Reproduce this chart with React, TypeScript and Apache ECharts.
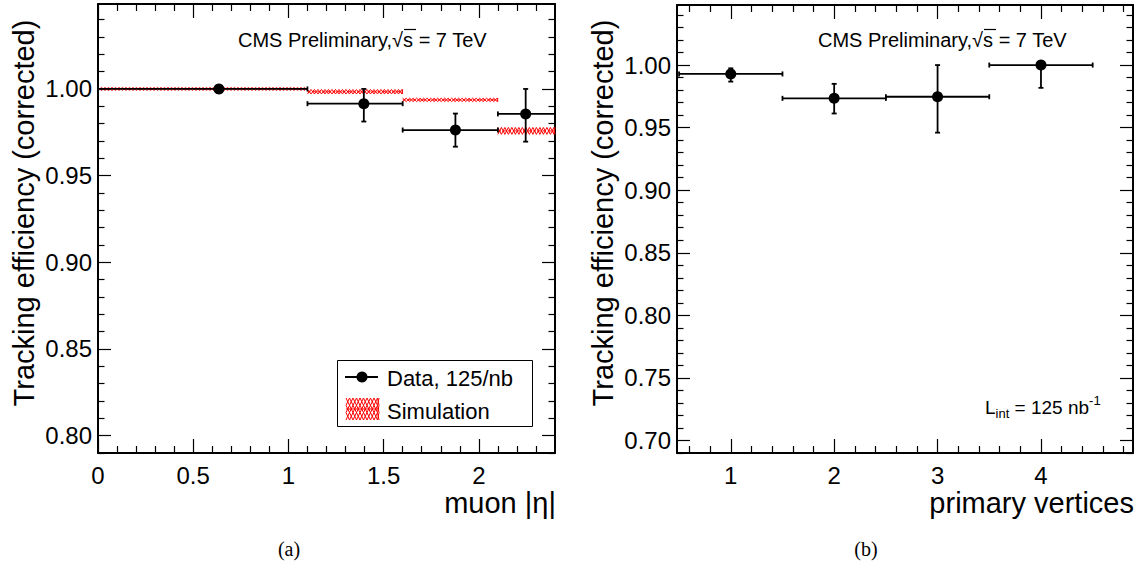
import React, { useEffect, useRef } from 'react';
import * as echarts from 'echarts';

const W = 1144;
const H = 572;

// ---- Panel (a): muon |eta| ----
const etaBinLo = [0, 1.1, 1.6, 2.1];
const etaBinHi = [1.1, 1.6, 2.1, 2.4];
const etaX = [0.635, 1.396, 1.877, 2.246];
const etaEff = [1.0, 0.9915, 0.9763, 0.9856];
const etaErrLo = [0.0022, 0.0103, 0.0096, 0.016];
const etaErrHi = [0.0015, 0.0085, 0.0095, 0.0144];
const simEff = [1.0, 0.9984, 0.9937, 0.9758];
const simErr = [0.0005, 0.0013, 0.001, 0.002];

// ---- Panel (b): primary vertices ----
const pvX = [1, 2, 3, 4];
const pvLo = [0.5, 1.5, 2.5, 3.5];
const pvHi = [1.5, 2.5, 3.5, 4.5];
const pvEff = [0.9929, 0.9734, 0.9747, 1.0];
const pvErrLo = [0.0061, 0.0121, 0.0287, 0.0182];
const pvErrHi = [0.0045, 0.0116, 0.0253, 0.0];

// ---- ticks ----
const etaMajor = [0, 0.5, 1, 1.5, 2];
const etaMinor = [0.1, 0.2, 0.3, 0.4, 0.6, 0.7, 0.8, 0.9, 1.1, 1.2, 1.3, 1.4, 1.6, 1.7, 1.8, 1.9, 2.1, 2.2, 2.3];
const effMajorA = [0.8, 0.85, 0.9, 0.95, 1.0];
const effMajorB = [0.7, 0.75, 0.8, 0.85, 0.9, 0.95, 1.0];
const pvMajor = [1, 2, 3, 4];

function range(a: number, b: number, step: number, skip: number[]) {
  const out: number[] = [];
  const n = Math.round((b - a) / step);
  for (let i = 0; i <= n; i++) {
    const v = +(a + i * step).toFixed(4);
    if (!skip.some((s) => Math.abs(s - v) < 1e-6)) out.push(v);
  }
  return out;
}
const effMinorA = range(0.79, 1.04, 0.01, effMajorA);
const effMinorB = range(0.69, 1.04, 0.01, effMajorB);
const pvMinor = range(0.6, 4.8, 0.2, pvMajor);

const FONT = 'Liberation Sans, Arial, Helvetica, sans-serif';

function axisSet(kind: 'x' | 'y', gi: number, min: number, max: number, major: number[], minor: number[], fmt: (v: number) => string) {
  const p1 = kind === 'x' ? 'bottom' : 'left';
  const p2 = kind === 'x' ? 'top' : 'right';
  const len = kind === 'x' ? [14, 7] : [13, 6.5];
  const base: any = { type: 'value', gridIndex: gi, min, max, splitLine: { show: false }, silent: true };
  const lineOn = { show: true, onZero: false, lineStyle: { color: '#000', width: 2 } };
  const lineOff = { show: false, onZero: false };
  const tick = (vals: number[], l: number) => ({ show: true, inside: true, length: l, customValues: vals, lineStyle: { color: '#000', width: 1.2 } });
  return [
    {
      ...base, position: p1, axisLine: lineOn, axisTick: tick(major, len[0]),
      axisLabel: {
        show: true, customValues: major, formatter: fmt, color: '#000', fontSize: 24, fontFamily: FONT,
        margin: kind === 'x' ? 10 : 6, hideOverlap: false, showMinLabel: true, showMaxLabel: true,
      },
    },
    { ...base, position: p1, axisLine: lineOff, axisTick: tick(minor, len[1]), axisLabel: { show: false } },
    { ...base, position: p2, axisLine: lineOn, axisTick: tick(major, len[0]), axisLabel: { show: false } },
    { ...base, position: p2, axisLine: lineOff, axisTick: tick(minor, len[1]), axisLabel: { show: false } },
  ];
}

function errRender(params: any, api: any) {
  const x = api.value(0), y = api.value(1), xlo = api.value(2), xhi = api.value(3), ylo = api.value(4), yhi = api.value(5);
  const c = api.coord([x, y]);
  const l = api.coord([xlo, y]);
  const r = api.coord([xhi, y]);
  const t = api.coord([x, yhi]);
  const b = api.coord([x, ylo]);
  const st = { stroke: '#000', lineWidth: 1.8 };
  const cap = 2.5;
  const ch: any[] = [
    { type: 'line', shape: { x1: l[0], y1: c[1], x2: r[0], y2: c[1] }, style: st },
    { type: 'line', shape: { x1: l[0], y1: c[1] - cap, x2: l[0], y2: c[1] + cap }, style: st },
    { type: 'line', shape: { x1: r[0], y1: c[1] - cap, x2: r[0], y2: c[1] + cap }, style: st },
  ];
  if (Math.abs(t[1] - b[1]) > 0.5) {
    ch.push({ type: 'line', shape: { x1: c[0], y1: t[1], x2: c[0], y2: b[1] }, style: st });
    ch.push({ type: 'line', shape: { x1: c[0] - cap, y1: t[1], x2: c[0] + cap, y2: t[1] }, style: st });
    ch.push({ type: 'line', shape: { x1: c[0] - cap, y1: b[1], x2: c[0] + cap, y2: b[1] }, style: st });
  }
  return { type: 'group', children: ch };
}

function hatch(x0: number, x1: number, y0: number, y1: number, p: number, z?: number) {
  const z1: number[][] = [];
  const z2: number[][] = [];
  let k = 0;
  for (let x = x0; x < x1 + p / 2 - 0.01; x += p / 2, k++) {
    const xx = Math.min(x, x1);
    z1.push([xx, k % 2 ? y1 : y0]);
    z2.push([xx, k % 2 ? y0 : y1]);
  }
  const st = { stroke: '#ff0000', fill: null, lineWidth: 1 };
  const extra: any = z === undefined ? {} : { z, silent: true };
  return [
    { type: 'polyline', shape: { points: z1 }, style: st, ...extra },
    { type: 'polyline', shape: { points: z2 }, style: st, ...extra },
  ];
}

function simRender(params: any, api: any) {
  const xlo = api.value(0), xhi = api.value(1), y = api.value(2), e = api.value(3);
  const a = api.coord([xlo, y + e]);
  const b = api.coord([xhi, y - e]);
  let y0 = a[1], y1 = b[1];
  const c = (y0 + y1) / 2;
  if (y1 - y0 < 3) { y0 = c - 1.5; y1 = c + 1.5; }
  return {
    type: 'group',
    children: [
      ...hatch(a[0], b[0], y0, y1, 7),
      { type: 'line', shape: { x1: a[0], y1: c, x2: b[0], y2: c }, style: { stroke: '#ff0000', lineWidth: 1, lineDash: [3, 2] } },
    ],
  };
}

const etaErrData = etaX.map((x, i) => [x, etaEff[i], etaBinLo[i], etaBinHi[i], etaEff[i] - etaErrLo[i], etaEff[i] + etaErrHi[i]]);
const pvErrData = pvX.map((x, i) => [x, pvEff[i], pvLo[i], pvHi[i], pvEff[i] - pvErrLo[i], pvEff[i] + pvErrHi[i]]);
const simData = etaBinLo.map((lo, i) => [lo, etaBinHi[i], simEff[i], simErr[i]]);

const f2 = (v: number) => v.toFixed(2);
const fEta = (v: number) => String(+v.toFixed(1));
const fPv = (v: number) => String(Math.round(v));

const txt = (x: number, y: number, text: string, size: number, extra: any = {}, z = 20) => ({
  type: 'text', x, y, z, silent: true,
  style: { text, fontSize: size, fontFamily: FONT, fill: '#000', verticalAlign: 'middle', align: 'left', ...extra },
});

const overline = (x1: number, x2: number, y: number) => ({
  type: 'line', z: 20, silent: true, shape: { x1, y1: y, x2, y2: y }, style: { stroke: '#000', lineWidth: 1.2 },
});

const option: any = {
  animation: false,
  backgroundColor: '#fff',
  grid: [
    { left: 98, right: W - 555, top: 4, bottom: H - 453 },
    { left: 677, right: W - 1133, top: 5, bottom: H - 453 },
  ],
  xAxis: [
    ...axisSet('x', 0, 0, 2.4, etaMajor, etaMinor, fEta),
    ...axisSet('x', 1, 0.48, 4.89, pvMajor, pvMinor, fPv),
  ],
  yAxis: [
    ...axisSet('y', 0, 0.79, 1.049, effMajorA, effMinorA, f2),
    ...axisSet('y', 1, 0.69, 1.048, effMajorB, effMinorB, f2),
  ],
  series: [
    { type: 'custom', name: 'Simulation', xAxisIndex: 0, yAxisIndex: 0, renderItem: simRender, data: simData, silent: true, z: 2 },
    { type: 'custom', name: 'Data err', xAxisIndex: 0, yAxisIndex: 0, renderItem: errRender, data: etaErrData, silent: true, z: 3 },
    { type: 'scatter', name: 'Data, 125/nb', xAxisIndex: 0, yAxisIndex: 0, data: etaX.map((x, i) => [x, etaEff[i]]), symbol: 'circle', symbolSize: 11, itemStyle: { color: '#000', opacity: 1 }, silent: true, z: 4 },
    { type: 'custom', name: 'PV err', xAxisIndex: 4, yAxisIndex: 4, renderItem: errRender, data: pvErrData, silent: true, z: 3 },
    { type: 'scatter', name: 'PV data', xAxisIndex: 4, yAxisIndex: 4, data: pvX.map((x, i) => [x, pvEff[i]]), symbol: 'circle', symbolSize: 11, itemStyle: { color: '#000', opacity: 1 }, silent: true, z: 4 },
  ],
  graphic: [
    // CMS labels
    txt(238, 40, 'CMS Preliminary,√s = 7 TeV', 20),
    overline(404, 416, 29.5),
    txt(818, 40, 'CMS Preliminary,√s = 7 TeV', 20),
    overline(984, 996, 29.5),
    // y titles
    { ...txt(24, 213, 'Tracking efficiency (corrected)', 29, { align: 'center' }), rotation: Math.PI / 2 },
    { ...txt(603, 213, 'Tracking efficiency (corrected)', 29, { align: 'center' }), rotation: Math.PI / 2 },
    // x titles
    txt(556, 503, 'muon |η|', 29, { align: 'right' }),
    txt(1134, 503, 'primary vertices', 29, { align: 'right' }),
    // panel labels
    txt(289, 549, '(a)', 20, { align: 'center', fontFamily: 'Liberation Serif, Times New Roman, serif' }),
    txt(866, 549, '(b)', 20, { align: 'center', fontFamily: 'Liberation Serif, Times New Roman, serif' }),
    // legend
    { type: 'rect', shape: { x: 337.5, y: 360.5, width: 195, height: 66 }, style: { fill: '#fff', stroke: '#000', lineWidth: 1 }, silent: true, z: 10 },
    { type: 'line', shape: { x1: 345, y1: 377, x2: 378, y2: 377 }, style: { stroke: '#000', lineWidth: 1.8 }, silent: true, z: 20 },
    { type: 'circle', shape: { cx: 362, cy: 377, r: 5.5 }, style: { fill: '#000' }, silent: true, z: 21 },
    txt(387, 378, 'Data, 125/nb', 22),
    ...hatch(346, 379, 398, 405.3, 7, 20),
    ...hatch(346, 379, 405.3, 412.6, 7, 20),
    ...hatch(346, 379, 412.6, 420, 7, 20),
    { type: 'line', shape: { x1: 346, y1: 409, x2: 379, y2: 409 }, style: { stroke: '#ff0000', lineWidth: 1 }, silent: true, z: 20 },
    txt(387, 411, 'Simulation', 22),
    // luminosity
    {
      type: 'text', x: 985, y: 407, z: 20, silent: true,
      style: {
        text: '{n|L}{sub|int}{n| = 125 nb}{sup|-1}',
        verticalAlign: 'middle', align: 'left',
        rich: {
          n: { fontSize: 19, fontFamily: FONT, color: '#000', lineHeight: 26, verticalAlign: 'middle' },
          sub: { fontSize: 13, fontFamily: FONT, color: '#000', lineHeight: 26, verticalAlign: 'bottom' },
          sup: { fontSize: 13, fontFamily: FONT, color: '#000', lineHeight: 26, verticalAlign: 'top' },
        },
      },
    },
  ],
};

export default function App() {
  const ref = useRef<HTMLDivElement>(null);
  useEffect(() => {
    document.body.style.margin = '0';
    const chart = echarts.init(ref.current!, null, { renderer: 'svg' });
    chart.setOption(option);
    return () => chart.dispose();
  }, []);
  return <div ref={ref} style={{ width: W, height: H }} />;
}
